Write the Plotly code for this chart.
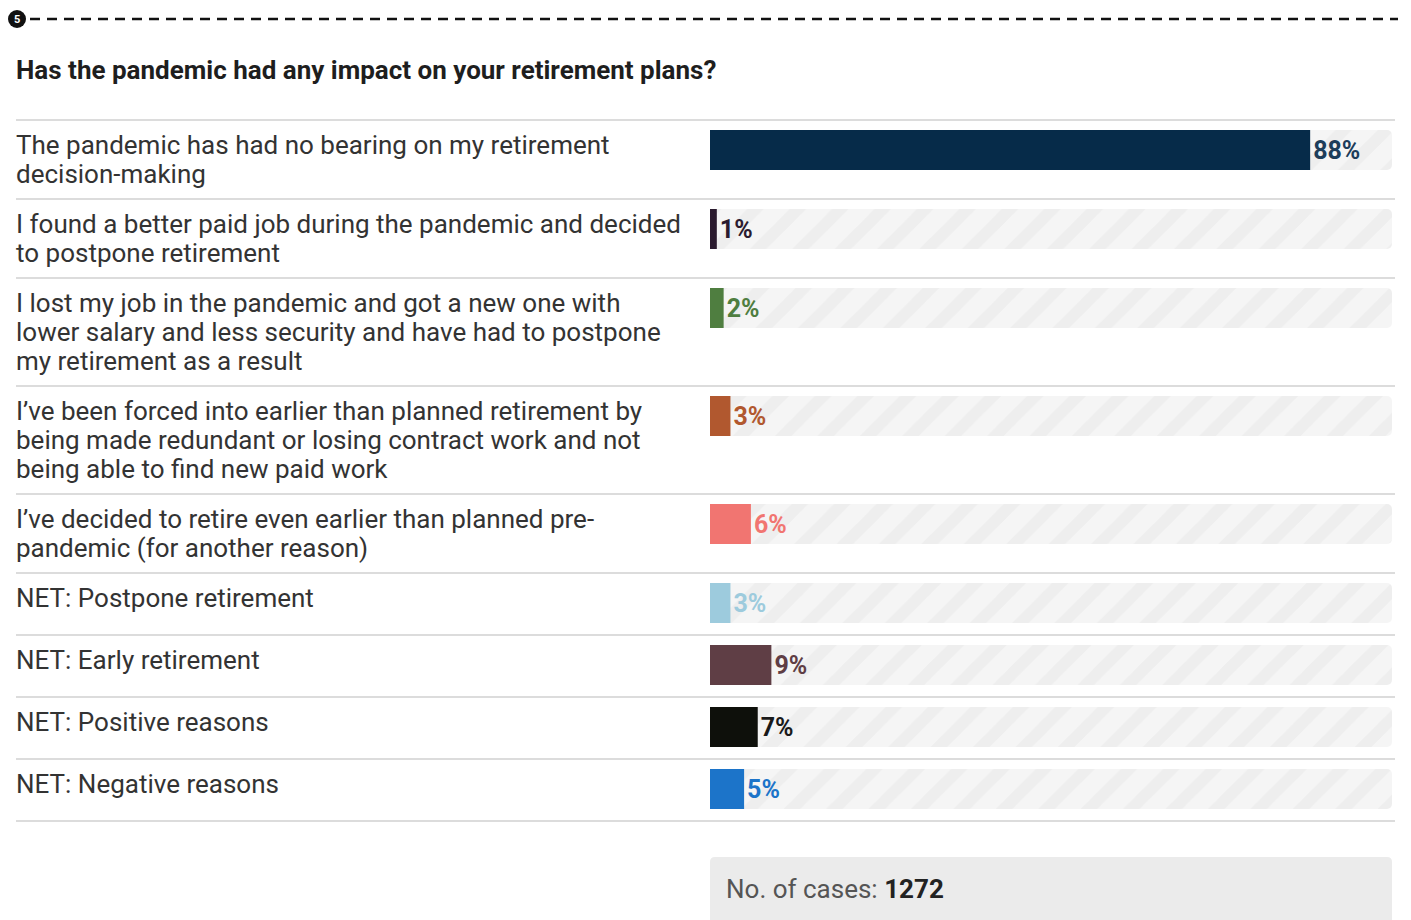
import plotly.graph_objects as go

# Survey question and answers
title = "Has the pandemic had any impact on your retirement plans?"
answers = [
    "The pandemic has had no bearing on my retirement\ndecision-making",
    "I found a better paid job during the pandemic and decided\nto postpone retirement",
    "I lost my job in the pandemic and got a new one with\nlower salary and less security and have had to postpone\nmy retirement as a result",
    "I\u2019ve been forced into earlier than planned retirement by\nbeing made redundant or losing contract work and not\nbeing able to find new paid work",
    "I\u2019ve decided to retire even earlier than planned pre-\npandemic (for another reason)",
    "NET: Postpone retirement",
    "NET: Early retirement",
    "NET: Positive reasons",
    "NET: Negative reasons",
]
shares = [88, 1, 2, 3, 6, 3, 9, 7, 5]
bar_colors = ["#062b49", "#2b1b2f", "#4f7e40", "#b1582f", "#f17571",
              "#9dcbdd", "#5f3e45", "#0e100b", "#1c74c9"]
label_colors = ["#1d3d5a", "#2b1b2f", "#4f7e40", "#b1582f", "#f17571",
                "#9dcbdd", "#5f3e45", "#1a1a1a", "#1c74c9"]
cases = 1272
step_number = "5"

W, H = 1411, 920
LEFT = 16
RIGHT = 1395
TRACK_X0, TRACK_X1 = 710, 1392
FIRST_RULE = 120
LINE_H = 29
BAR_H = 40
FONT = "Roboto"

# Row geometry derived from the number of label lines
row_tops, row_heights = [], []
top = FIRST_RULE
for a in answers:
    n = a.count("\n") + 1
    h = max(62, 21 + LINE_H * n)
    row_tops.append(top)
    row_heights.append(h)
    top += h
bottom_rule = top
bar_centers = [t + 10 + BAR_H / 2 for t in row_tops]

fig = go.Figure()

# Striped background track at 100%
fig.add_trace(go.Bar(
    x=[100] * len(answers), y=bar_centers, orientation="h", width=BAR_H,
    marker=dict(color="#f4f4f4", line=dict(width=0), cornerradius=5,
                pattern=dict(shape="/", fgcolor="#e8e8e8", bgcolor="#f5f5f5",
                             size=30, solidity=0.4)),
    hoverinfo="skip", showlegend=False,
))

# Value bars
fig.add_trace(go.Bar(
    x=shares, y=bar_centers, orientation="h", width=BAR_H,
    marker=dict(color=bar_colors, line=dict(width=0)),
    text=[f"{v}%" for v in shares], textposition="outside",
    textfont=dict(family=FONT, size=25, color=label_colors, weight="bold"),
    cliponaxis=False, hoverinfo="skip", showlegend=False,
))

px = lambda v: v / W

shapes = []
annotations = []

# Header: numbered circle and dashed rule
shapes.append(dict(type="line", xref="paper", yref="y", x0=px(30), x1=px(1398),
                   y0=19, y1=19, line=dict(color="#111111", width=2.5, dash="10px,7px")))
shapes.append(dict(type="circle", xref="paper", yref="y", x0=px(8), x1=px(26),
                   y0=10, y1=28, fillcolor="#111111", line=dict(width=0)))
annotations.append(dict(text=f"<b>{step_number}</b>", xref="paper", yref="y",
                        x=px(17), y=19.5, xanchor="center", yanchor="middle",
                        showarrow=False,
                        font=dict(family=FONT, size=11, color="white")))

# Title
annotations.append(dict(text=f"<b>{title}</b>", xref="paper", yref="y",
                        x=px(LEFT - 2), y=70, xanchor="left", yanchor="middle",
                        showarrow=False,
                        font=dict(family=FONT, size=26, color="#1e1e1e")))

# Row rules
for y in row_tops + [bottom_rule]:
    shapes.append(dict(type="line", xref="paper", yref="y", x0=px(LEFT), x1=px(RIGHT),
                       y0=y, y1=y, line=dict(color="#dcdcdc", width=2)))

# Answer labels, one annotation per line
for a, t in zip(answers, row_tops):
    for i, line in enumerate(a.split("\n")):
        annotations.append(dict(text=line, xref="paper", yref="y",
                                x=px(LEFT - 2), y=t + 25 + LINE_H * i,
                                xanchor="left", yanchor="middle", showarrow=False,
                                font=dict(family=FONT, size=26, color="#333333")))

# Case count box with rounded top corners
bx0, bx1, by0, by1, r = px(TRACK_X0), px(TRACK_X1), 857, 935, 5
rx = px(r)
box_path = (f"M {bx0},{by1} L {bx0},{by0 + r} Q {bx0},{by0} {bx0 + rx},{by0} "
            f"L {bx1 - rx},{by0} Q {bx1},{by0} {bx1},{by0 + r} L {bx1},{by1} Z")
shapes.append(dict(type="path", xref="paper", yref="y", path=box_path,
                   fillcolor="#ebebeb", line=dict(width=0), layer="below"))
annotations.append(dict(text=f"No. of cases: <b><span style='color:#222222'>{cases}</span></b>",
                        xref="paper", yref="y", x=px(724), y=889,
                        xanchor="left", yanchor="middle", showarrow=False,
                        font=dict(family=FONT, size=26, color="#555555")))

fig.update_layout(
    width=W, height=H,
    margin=dict(l=0, r=0, t=0, b=0),
    paper_bgcolor="white", plot_bgcolor="rgba(0,0,0,0)",
    barmode="overlay",
    xaxis=dict(domain=[px(TRACK_X0), px(TRACK_X1)], range=[0, 100],
               visible=False, fixedrange=True),
    yaxis=dict(domain=[0, 1], range=[H, 0], visible=False, fixedrange=True),
    shapes=shapes, annotations=annotations,
    uniformtext=dict(mode=False),
)

fig.write_html("out.html", config={"displayModeBar": False})
